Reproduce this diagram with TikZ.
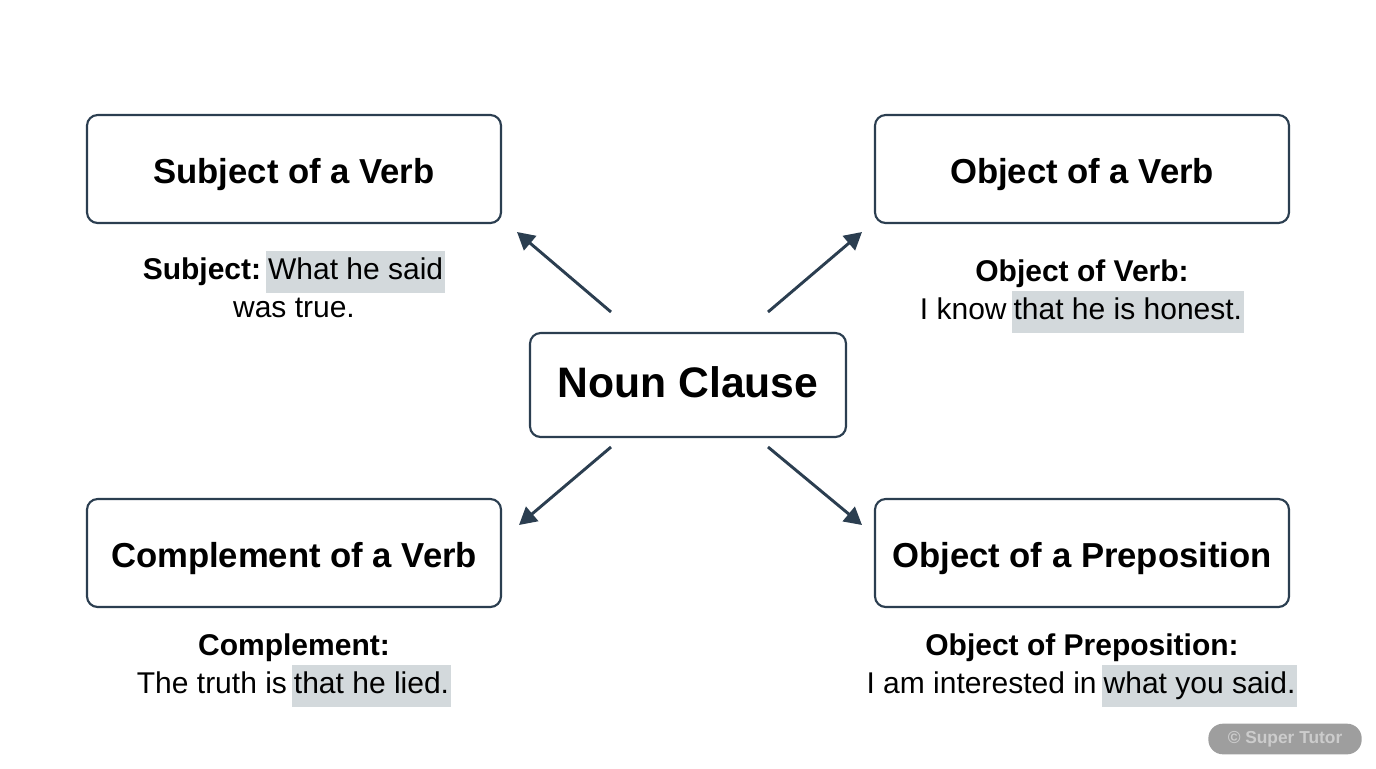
\documentclass[tikz,border=0pt]{standalone}
\usepackage{fontspec}
\setmainfont{Liberation Sans}
\usetikzlibrary{arrows.meta}
\definecolor{slate}{HTML}{2B3E50}
\definecolor{hilite}{HTML}{D3D9DC}
\tikzset{
  role/.style = {draw=slate, line width=1.6pt, rounded corners=8, fill=white,
    minimum width=310.5pt, minimum height=81pt, text height=26pt, text depth=4pt,
    font=\fontsize{26}{30}\selectfont\bfseries},
  hub/.style = {role, minimum width=237pt, minimum height=78pt, text height=24pt, text depth=6pt,
    font=\fontsize{32}{36}\selectfont\bfseries},
  example/.style = {align=center, font=\fontsize{22.5}{28.5}\selectfont},
  link/.style = {draw=slate, line width=2.2pt, -{Triangle[length=13pt,width=14pt]}}
}
\newcommand{\hl}[1]{{\setlength{\fboxsep}{1.5pt}\colorbox{hilite}{\strut #1}}}
\begin{document}
\begin{tikzpicture}[x=0.75pt, y=-0.75pt]
  \useasboundingbox (0,0) rectangle (1376,768);

  % Actors
  \node[hub]  (nc) at (688,385) {Noun Clause};
  \node[role] (sv) at (294,169) {Subject of a Verb};
  \node[role] (ov) at (1082,169) {Object of a Verb};
  \node[role] (cv) at (294,553) {Complement of a Verb};
  \node[role] (op) at (1082,553) {Object of a Preposition};

  % Examples
  \node[example] (sv_ex) at (294,284) {\textbf{Subject:}\,\hl{What he said}\\was true.};
  \node[example] (ov_ex) at (1082,296) {\textbf{Object of Verb:}\\I know\,\hl{that he is honest.}};
  \node[example] (cv_ex) at (294,670) {\textbf{Complement:}\\The truth is\,\hl{that he lied.}};
  \node[example] (op_ex) at (1082,670) {\textbf{Object of Preposition:}\\I am interested in\,\hl{what you said.}};

  % Arrows
  \coordinate (nw) at (611,312); \coordinate (nw_t) at (517,232);
  \coordinate (ne) at (768,312); \coordinate (ne_t) at (862,232);
  \coordinate (sw) at (611,447); \coordinate (sw_t) at (519,525);
  \coordinate (se) at (768,447); \coordinate (se_t) at (862,525);
  \draw[link] (nw)--(nw_t);
  \draw[link] (ne)--(ne_t);
  \draw[link] (sw)--(sw_t);
  \draw[link] (se)--(se_t);

  % Badge
  \node[fill=black!38, text=black!20, rounded corners=11, minimum width=115pt, minimum height=23pt,
    font=\fontsize{13}{15}\selectfont\bfseries] (badge) at (1285,739) {© Super Tutor};
\end{tikzpicture}
\end{document}
